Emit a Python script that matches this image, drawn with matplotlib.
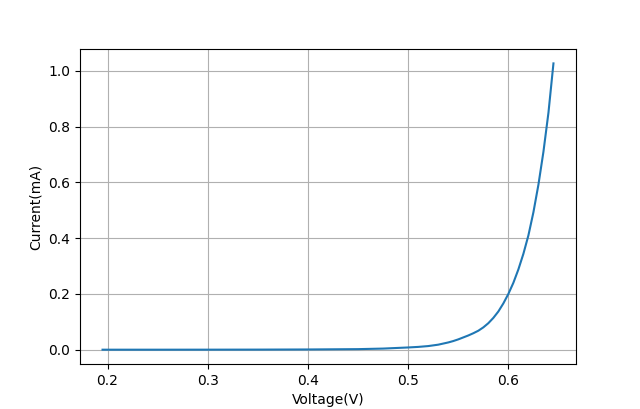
import matplotlib
matplotlib.use('Agg')
import matplotlib.pyplot as plt

# values
voltage = [0.195, 0.25, 0.30, 0.35, 0.40, 0.45, 0.475,
           0.500, 0.505, 0.510, 0.515, 0.520, 0.525, 0.530, 0.535, 0.540, 0.545,
           0.550, 0.555, 0.560, 0.565, 0.570, 0.575, 0.580, 0.585, 0.590, 0.595,
           0.600, 0.605, 0.610, 0.615, 0.620, 0.625, 0.630, 0.635, 0.640, 0.645]
current = [0.0, 0.0, 0.0001, 0.0003, 0.0008, 0.002, 0.004,
           0.008, 0.009, 0.010, 0.0115, 0.013, 0.0155, 0.018, 0.022, 0.026, 0.031,
           0.037, 0.044, 0.051, 0.059, 0.068, 0.080, 0.095, 0.114, 0.137, 0.166,
           0.200, 0.240, 0.288, 0.344, 0.410, 0.493, 0.592, 0.710, 0.850, 1.027]

fig, ax = plt.subplots(figsize=(6.4, 4.09), dpi=100)
ax.plot(voltage, current)
ax.set_xlabel('Voltage(V)')
ax.set_ylabel('Current(mA)')
ax.grid(True)
fig.savefig('out.png')
